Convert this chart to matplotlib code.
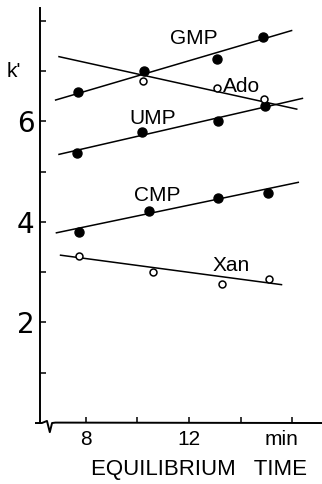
import matplotlib.pyplot as plt
from matplotlib.lines import Line2D
from matplotlib.transforms import ScaledTranslation

plt.rcParams['font.family'] = ['Liberation Sans', 'DejaVu Sans']

# equilibrium time (min) of the measured points
gmp_t = [7.68, 10.25, 13.07, 14.87]
gmp_k = [6.59, 7.00, 7.25, 7.67]
ado_t = [10.20, 13.09, 14.91]
ado_k = [6.81, 6.66, 6.45]
ump_t = [7.64, 10.18, 13.13, 14.94]
ump_k = [5.37, 5.79, 6.01, 6.30]
cmp_t = [7.73, 10.44, 13.13, 15.07]
cmp_k = [3.79, 4.22, 4.48, 4.58]
xan_t = [7.74, 10.61, 13.26, 15.10]
xan_k = [3.33, 3.01, 2.77, 2.87]

# trend lines, start and end points
gmp_line_t = [6.80, 16.00]
gmp_line_k = [6.42, 7.81]
ado_line_t = [6.93, 16.20]
ado_line_k = [7.29, 6.24]
ump_line_t = [6.93, 16.42]
ump_line_k = [5.34, 6.46]
cmp_line_t = [6.83, 16.26]
cmp_line_k = [3.78, 4.79]
xan_line_t = [6.99, 15.61]
xan_line_k = [3.34, 2.75]

x_ticks = [8, 10, 12, 14, 16]
x_labels = ['8', '', '12', '', 'min']
y_ticks = [1, 2, 3, 4, 5, 6, 7, 8]
y_labels = ['', '2', '', '4', '', '6', '', '']

fig = plt.figure(figsize=(3.22, 4.84), dpi=100)
ax = fig.add_axes([0.124, 0.126, 0.876, 0.857])
ax.set_xlim(6.22, 17.15)
ax.set_ylim(0, 8.25)

lw = 1.1
for t, k in [(gmp_line_t, gmp_line_k), (ado_line_t, ado_line_k),
             (ump_line_t, ump_line_k), (cmp_line_t, cmp_line_k),
             (xan_line_t, xan_line_k)]:
    ax.plot(t, k, color='black', lw=lw, solid_capstyle='butt')

for t, k in [(gmp_t, gmp_k), (ump_t, ump_k), (cmp_t, cmp_k)]:
    ax.plot(t, k, 'o', ms=6.5, color='black', zorder=3)
for t, k in [(ado_t, ado_k), (xan_t, xan_k)]:
    ax.plot(t, k, 'o', ms=5, mfc='white', mec='black', mew=1.1, zorder=3)

label_kw = dict(fontsize=15, ha='center', va='center')
ax.text(12.2, 7.65, 'GMP', **label_kw)
ax.text(14.05, 6.69, 'Ado', **label_kw)
ax.text(10.6, 6.06, 'UMP', **label_kw)
ax.text(10.75, 4.53, 'CMP', **label_kw)
ax.text(13.62, 3.13, 'Xan', **label_kw)
ax.text(-0.092, 7.0, "k'", transform=ax.get_yaxis_transform(), fontsize=15,
        ha='center', va='center')

for side in ['top', 'right', 'bottom']:
    ax.spines[side].set_visible(False)
ax.spines['left'].set_linewidth(1.4)

# x axis drawn by hand so it can carry the break mark near the origin
bx = [-0.014, 0.007, 0.025, 0.035, 0.043, 0.055, 1.0]
by = [0.0, 0.0, 0.005, -0.022, 0.0, 0.001, 0.0]
ax.add_line(Line2D(bx, by, transform=ax.transAxes,
                   color='black', lw=1.4, clip_on=False))

ax.set_xticks(x_ticks)
ax.set_xticklabels(x_labels)
ax.set_yticks(y_ticks)
ax.set_yticklabels(y_labels, family=['Liberation Sans Narrow', 'DejaVu Sans'])
ax.tick_params(axis='both', direction='in', width=1.1, colors='black')
ax.tick_params(axis='x', pad=5, length=4, labelsize=15)
ax.tick_params(axis='y', pad=4, length=4, labelsize=20)

# unit label sits a little left of its tick
unit = ax.get_xticklabels()[-1]
unit.set_transform(unit.get_transform() + ScaledTranslation(-0.11, 0, fig.dpi_scale_trans))

ax.text(0.564, -0.113, 'EQUILIBRIUM   TIME', transform=ax.transAxes,
        fontsize=16, ha='center', va='center')

fig.savefig('out.png', dpi=100)
